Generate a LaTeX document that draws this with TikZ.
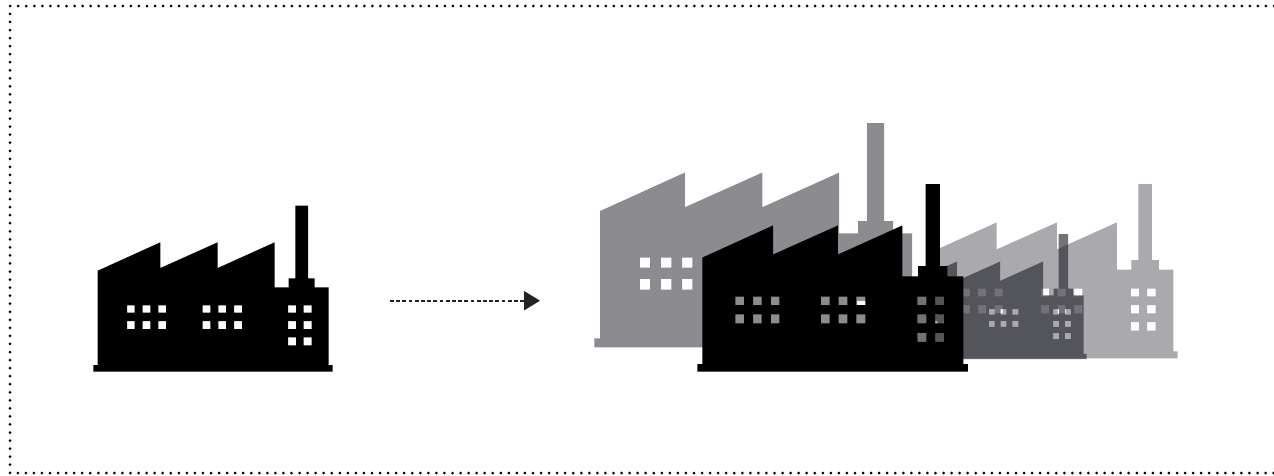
\documentclass[tikz,border=0pt]{standalone}
\usetikzlibrary{arrows.meta}
\definecolor{grayA}{HTML}{8C8B90}
\definecolor{grayD}{HTML}{AAA9AD}
\definecolor{grayC}{HTML}{272730}
\definecolor{arrowink}{HTML}{222222}
\tikzset{
  framedots/.style={line width=3pt,line cap=round,dash pattern=on 0pt off 8.05pt,black},
  flowline/.style={line width=2pt,arrowink,dash pattern=on 3.8pt off 2.4pt,
    -{Triangle[length=16pt,width=19pt,fill=arrowink]},shorten >=0pt},
  plantfill/.style={even odd rule,draw=none},
}
\newcommand{\plant}[4]{%
  \begin{scope}[shift={(#1,#2)},scale=#3]
    \fill[plantfill,#4]
      (0,0) -- (0,-6.7) -- (4.4,-6.7) -- (4.4,-101) -- (67,-129.4) -- (67,-103.7)
      -- (124.4,-129.4) -- (124.4,-103.7) -- (181.4,-129.4) -- (181.4,-84.4)
      -- (195.4,-84.4) -- (195.4,-93.4) -- (202,-93.4) -- (202,-166) -- (214.7,-166)
      -- (214.7,-93.4) -- (221.4,-93.4) -- (221.4,-84.4) -- (235.4,-84.4)
      -- (235.4,-6.7) -- (239.4,-6.7) -- (239.4,0) -- cycle
      (33.7,-66.4) rectangle (41.4,-59)   (49.4,-66.4) rectangle (57,-59)    (65,-66.4) rectangle (72.7,-59)
      (33.7,-50.7) rectangle (41.4,-42.7) (49.4,-50.7) rectangle (57,-42.7)  (65,-50.7) rectangle (72.7,-42.7)
      (109.4,-66.4) rectangle (117,-59)   (125,-66.4) rectangle (132.7,-59)  (140.7,-66.4) rectangle (148.7,-59)
      (109.4,-50.7) rectangle (117,-42.7) (125,-50.7) rectangle (132.7,-42.7) (140.7,-50.7) rectangle (148.7,-42.7)
      (194.7,-66.4) rectangle (202.7,-59)   (210.4,-66.4) rectangle (218.4,-59)
      (194.7,-50.7) rectangle (202.7,-42.7) (210.4,-50.7) rectangle (218.4,-42.7)
      (194.7,-34.4) rectangle (202.7,-26.4) (210.4,-34.4) rectangle (218.4,-26.4);
  \end{scope}}
\begin{document}
\begin{tikzpicture}[x=1pt,y=-1pt]
  \useasboundingbox (0,0) rectangle (1274,475);
  \fill[white] (0,0) rectangle (1274,475);
  % frame: open on the right
  \coordinate (frameTR) at (1274,6);
  \coordinate (frameTL) at (10,6);
  \coordinate (frameBL) at (10,473);
  \coordinate (frameBR) at (1274,473);
  \draw[framedots] (frameTR) -- (frameTL) -- (frameBL) -- (frameBR);
  % single factory
  \plant{93.3}{371.7}{1}{black}
  % arrow
  \coordinate (flowstart) at (390,300.7);
  \coordinate (flowend) at (540,300.7);
  \draw[flowline] (flowstart) -- (flowend);
  % cluster of factories
  \plant{594.3}{347.3}{1.35}{grayA}
  \plant{926.3}{358.3}{1.05}{grayD}
  \plant{906.4}{359}{0.753}{grayC,fill opacity=0.65}
  \plant{697.3}{371.7}{1.13}{black}
\end{tikzpicture}
\end{document}
